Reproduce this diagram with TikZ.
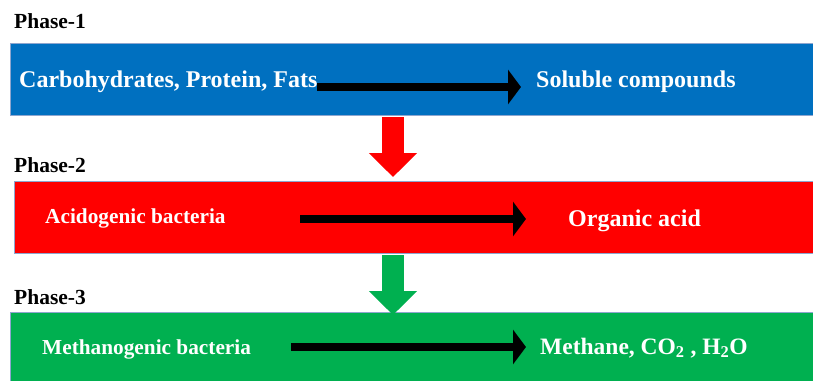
\documentclass[tikz,border=0pt]{standalone}
\usepackage{fontspec}
\setmainfont{Liberation Serif}
\usetikzlibrary{arrows.meta}
\definecolor{pblue}{HTML}{0070C0}
\definecolor{pred}{HTML}{FF0000}
\definecolor{pgreen}{HTML}{00B050}
\definecolor{pedge}{HTML}{8EA6CF}
\tikzset{
  x=1pt, y=-1pt,
  band/.style={draw=pedge, line width=0.8pt, anchor=north west, minimum width=803pt, minimum height=72pt, inner sep=0pt, outer sep=0pt},
  phaselabel/.style={anchor=base west, inner sep=0pt, font=\fontsize{21.5}{24}\selectfont\bfseries, text=black},
  bigtext/.style={anchor=base west, inner sep=0pt, font=\fontsize{24}{27}\selectfont\bfseries, text=white},
  smalltext/.style={anchor=base west, inner sep=0pt, font=\fontsize{21.3}{24}\selectfont\bfseries, text=white},
  flow/.style={line width=8.5pt, black, -{Triangle[length=13pt,width=34pt]}},
  down/.style={line width=22pt, -{Triangle[length=24pt,width=47pt]}},
}
\begin{document}
\begin{tikzpicture}
\useasboundingbox (0,0) rectangle (813,380);
% bands
\node[band, fill=pblue] (b1) at (10,43) {};
\node[band, fill=pred] (b2) at (14,181) {};
\node[band, fill=pgreen, minimum height=80pt] (b3) at (10,312) {};
% phase labels
\node[phaselabel] (p1) at (14,28) {Phase-1};
\node[phaselabel] (p2) at (14,172) {Phase-2};
\node[phaselabel] (p3) at (14,304) {Phase-3};
% texts
\node[bigtext] (t1a) at (19,87) {Carbohydrates, Protein, Fats};
\node[bigtext] (t1b) at (536,87) {Soluble compounds};
\node[smalltext] (t2a) at (45,223) {Acidogenic bacteria};
\node[bigtext] (t2b) at (568,226) {Organic acid};
\node[smalltext] (t3a) at (42,354) {Methanogenic bacteria};
\node[bigtext, font=\fontsize{23.5}{26}\selectfont\bfseries] (t3b) at (540,354) {Methane, CO\textsubscript{2} , H\textsubscript{2}O};
% flow arrows
\coordinate (a1s) at (317,87);
\coordinate (a1e) at (521,87);
\coordinate (a2s) at (300,219);
\coordinate (a2e) at (526,219);
\coordinate (a3s) at (291,347);
\coordinate (a3e) at (526,347);
\draw[flow] (a1s) -- (a1e);
\draw[flow] (a2s) -- (a2e);
\draw[flow] (a3s) -- (a3e);
% down arrows
\coordinate (d1s) at (393,117);
\coordinate (d1e) at (393,177);
\coordinate (d2s) at (393,255);
\coordinate (d2e) at (393,315);
\draw[down, pred] (d1s) -- (d1e);
\draw[down, pgreen] (d2s) -- (d2e);
\end{tikzpicture}
\end{document}
